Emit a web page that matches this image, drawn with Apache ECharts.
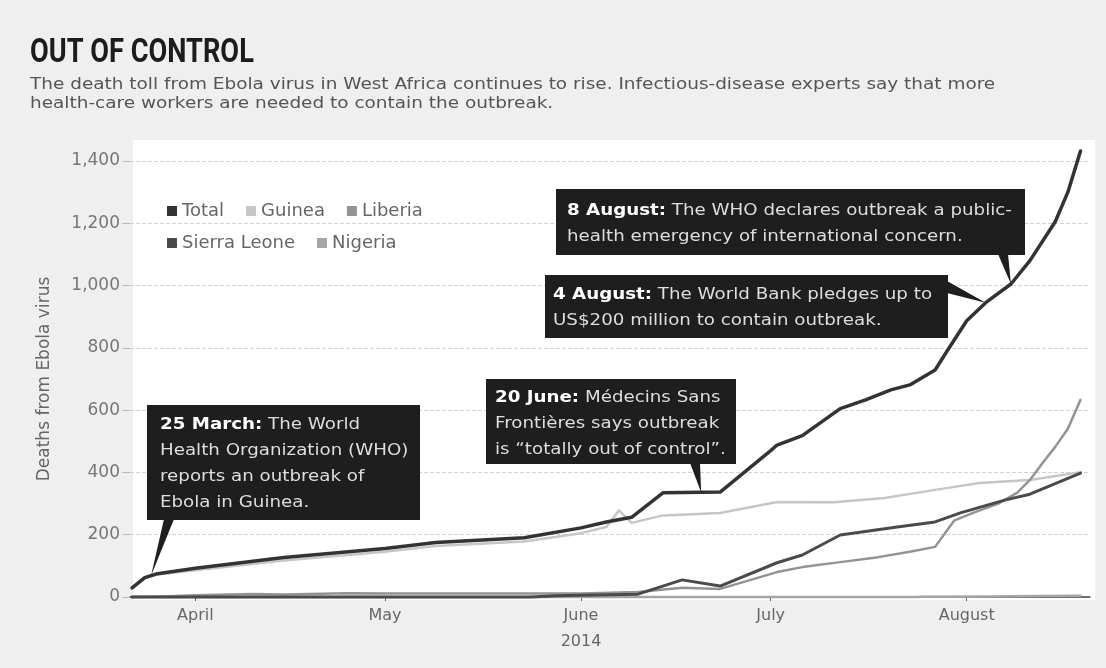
<!DOCTYPE html>
<html>
<head>
<meta charset="utf-8">
<script src="https://cdn.jsdelivr.net/npm/echarts@6/dist/echarts.min.js"></script>
<style>
  html, body { margin: 0; padding: 0; background: #efefef; }
  #chart { width: 1106px; height: 668px; }
</style>
</head>
<body>
<div id="chart"></div>
<script>
// data (cumulative deaths)
const total = [
  ['2014-03-22', 29], ['2014-03-24', 62], ['2014-03-26', 75], ['2014-04-01', 92],
  ['2014-04-15', 127], ['2014-05-01', 156], ['2014-05-09', 175], ['2014-05-23', 190],
  ['2014-06-01', 222], ['2014-06-05', 241], ['2014-06-09', 256], ['2014-06-14', 335],
  ['2014-06-23', 337], ['2014-07-01', 470], ['2014-07-02', 488], ['2014-07-06', 518],
  ['2014-07-12', 605], ['2014-07-16', 633], ['2014-07-20', 665], ['2014-07-23', 681],
  ['2014-07-27', 729], ['2014-07-29', 793], ['2014-08-01', 887], ['2014-08-04', 945],
  ['2014-08-08', 1005], ['2014-08-11', 1080], ['2014-08-15', 1205], ['2014-08-17', 1300],
  ['2014-08-19', 1432]
]
const guinea = [
  ['2014-03-22', 29], ['2014-03-24', 60], ['2014-03-26', 72], ['2014-04-01', 86],
  ['2014-04-15', 117], ['2014-05-01', 145], ['2014-05-09', 164], ['2014-05-23', 178],
  ['2014-06-01', 205], ['2014-06-05', 225], ['2014-06-07', 278], ['2014-06-09', 238],
  ['2014-06-14', 262], ['2014-06-23', 270], ['2014-07-02', 305], ['2014-07-11', 304],
  ['2014-07-19', 318], ['2014-07-27', 344], ['2014-08-03', 366], ['2014-08-11', 376],
  ['2014-08-19', 401]
]
const liberia = [
  ['2014-03-22', 0], ['2014-03-27', 2], ['2014-04-01', 6], ['2014-04-10', 10],
  ['2014-04-15', 8], ['2014-04-25', 12], ['2014-05-01', 11], ['2014-05-10', 11],
  ['2014-06-01', 11], ['2014-06-10', 16], ['2014-06-17', 30], ['2014-06-23', 26],
  ['2014-07-02', 80], ['2014-07-06', 96], ['2014-07-12', 112], ['2014-07-18', 128],
  ['2014-07-23', 145], ['2014-07-27', 161], ['2014-07-30', 245], ['2014-08-02', 270],
  ['2014-08-06', 300], ['2014-08-09', 335], ['2014-08-11', 376], ['2014-08-13', 430],
  ['2014-08-15', 482], ['2014-08-17', 540], ['2014-08-19', 633]
]
const sierraLeone = [
  ['2014-03-22', 0], ['2014-05-24', 0], ['2014-05-28', 4], ['2014-06-01', 6],
  ['2014-06-10', 9], ['2014-06-17', 55], ['2014-06-23', 35], ['2014-07-02', 110],
  ['2014-07-06', 135], ['2014-07-12', 199], ['2014-07-21', 225], ['2014-07-27', 241],
  ['2014-07-31', 270], ['2014-08-07', 311], ['2014-08-11', 330], ['2014-08-19', 398]
]
const nigeria = [
  ['2014-03-22', 0], ['2014-07-24', 0], ['2014-07-25', 1], ['2014-08-05', 2],
  ['2014-08-12', 3], ['2014-08-19', 4]
]
const months = ['April', 'May', 'June', 'July', 'August']
const monthStarts = ['2014-04-01', '2014-05-01', '2014-06-01', '2014-07-01', '2014-08-01']

// annotations: date on the Total line + text
const notes = [
  { date: '2014-03-25', head: '25 March:', text: ' The World\nHealth Organization (WHO)\nreports an outbreak of\nEbola in Guinea.' },
  { date: '2014-06-20', head: '20 June:', text: ' Médecins Sans\nFrontières says outbreak\nis “totally out of control”.' },
  { date: '2014-08-08', head: '8 August:', text: ' The WHO declares outbreak a public-\nhealth emergency of international concern.' },
  { date: '2014-08-04', head: '4 August:', text: ' The World Bank pledges up to\nUS$200 million to contain outbreak.' }
]

// day of year 2014 (Jan 1 = 0), x axis is in days
const day = s => {
  const [y, m, d] = s.split('-').map(Number)
  return (Date.UTC(y, m - 1, d) - Date.UTC(y, 0, 1)) / 86400000
}
const toSeries = arr => arr.map(([d, v]) => [day(d), v])
const monthDays = monthStarts.map(day)

const FONT = 'DejaVu Sans'
const colors = { Total: '#333333', Guinea: '#c6c6c6', Liberia: '#939393', 'Sierra Leone': '#4a4a4a', Nigeria: '#a5a5a5' }

const chartDom = document.getElementById('chart')
const chart = echarts.init(chartDom)

const lineSeries = (name, data, width, z) => ({
  name,
  type: 'line',
  data: toSeries(data),
  showSymbol: false,
  symbol: 'none',
  clip: false,
  z,
  lineStyle: { color: colors[name], width, join: 'round', cap: 'round' },
  itemStyle: { color: colors[name] },
  emphasis: { disabled: true }
})

const legendBase = {
  orient: 'horizontal',
  icon: 'rect',
  itemWidth: 10,
  itemHeight: 10,
  itemGap: 22,
  textStyle: { fontFamily: FONT, fontSize: 18, color: '#666' },
  selectedMode: false
}

const baseGraphic = [
  // white panel behind the plot
  { type: 'rect', z: -10, shape: { x: 133, y: 140, width: 962, height: 460 }, style: { fill: '#ffffff' } },
  {
    type: 'text', x: 30, y: 36, scaleX: 0.8,
    style: { text: 'OUT OF CONTROL', fontFamily: 'Roboto', fontWeight: 'bold', fontSize: 34, fill: '#1c1c1c', verticalAlign: 'top' }
  },
  {
    type: 'text', x: 30, y: 76, scaleX: 1.23,
    style: {
      text: 'The death toll from Ebola virus in West Africa continues to rise. Infectious-disease experts say that more\nhealth-care workers are needed to contain the outbreak.',
      fontFamily: FONT, fontSize: 15, lineHeight: 19, fill: '#555', verticalAlign: 'top'
    }
  }
]

const option = {
  backgroundColor: '#efefef',
  animation: false,
  grid: { left: 130, right: 16, top: 161, bottom: 71, containLabel: false },
  legend: [
    Object.assign({}, legendBase, { data: ['Total', 'Guinea', 'Liberia'], left: 162, top: 197 }),
    Object.assign({}, legendBase, { data: ['Sierra Leone', 'Nigeria'], left: 162, top: 229 })
  ],
  xAxis: {
    type: 'value',
    min: day('2014-03-21') + 16 / 24,
    max: day('2014-08-20') + 12 / 24,
    axisLine: { lineStyle: { color: '#444', width: 1.5 } },
    axisTick: { show: true, length: 4, lineStyle: { color: '#666' }, customValues: monthDays },
    splitLine: { show: false },
    axisLabel: {
      customValues: monthDays,
      margin: 6,
      fontFamily: FONT,
      fontSize: 16,
      lineHeight: 26,
      color: '#666',
      formatter: v => {
        const i = monthDays.indexOf(v)
        if (i < 0) return ''
        return i === 2 ? months[i] + '\n2014' : months[i]
      }
    }
  },
  yAxis: {
    type: 'value',
    min: 0,
    max: 1400,
    interval: 200,
    name: 'Deaths from Ebola virus',
    nameLocation: 'middle',
    nameGap: 77,
    nameTextStyle: { fontFamily: FONT, fontSize: 17, color: '#666' },
    axisLine: { show: false },
    axisTick: { show: true, length: 8, lineStyle: { color: '#bbb' } },
    splitLine: { lineStyle: { color: '#d2d2d2', type: [4, 2] } },
    axisLabel: {
      margin: 10,
      fontFamily: FONT,
      fontSize: 17,
      color: '#777',
      formatter: v => v.toLocaleString('en-US')
    }
  },
  series: [
    lineSeries('Nigeria', nigeria, 2.5, 2),
    lineSeries('Guinea', guinea, 2.5, 3),
    lineSeries('Liberia', liberia, 2.5, 4),
    lineSeries('Sierra Leone', sierraLeone, 3, 5),
    lineSeries('Total', total, 3.5, 6)
  ],
  graphic: baseGraphic
}

chart.setOption(option, true)

// Total value at a date, from the Total series
const totalAt = d => {
  const t = day(d)
  const s = toSeries(total)
  for (let i = 1; i < s.length; i++) {
    if (t <= s[i][0]) {
      const f = (t - s[i - 1][0]) / (s[i][0] - s[i - 1][0])
      return s[i - 1][1] + f * (s[i][1] - s[i - 1][1])
    }
  }
  return s[s.length - 1][1]
}

// boxes: position of box, where text starts, and the pointer base
const boxes = [
  { x: 147, y: 405, w: 273, h: 115, tx: 160, ty: 412, base: [[164, 519], [174, 519]] },
  { x: 486, y: 379, w: 250, h: 85, tx: 495, ty: 385, base: [[690, 463], [700, 463]] },
  { x: 556, y: 189, w: 469, h: 66, tx: 567, ty: 198, base: [[998, 254], [1008, 254]] },
  { x: 545, y: 275, w: 403, h: 63, tx: 553, ty: 282, base: [[947, 281], [947, 293]] }
]

const noteGraphic = []
notes.forEach((n, i) => {
  const b = boxes[i]
  const tip = chart.convertToPixel({ gridIndex: 0 }, [day(n.date), totalAt(n.date)])
  noteGraphic.push({
    type: 'polygon', z: 20,
    shape: { points: [b.base[0], b.base[1], tip] },
    style: { fill: '#1e1e1e' }
  })
  noteGraphic.push({
    type: 'rect', z: 20,
    shape: { x: b.x, y: b.y, width: b.w, height: b.h },
    style: { fill: '#1e1e1e' }
  })
  noteGraphic.push({
    type: 'text', z: 21, x: b.tx, y: b.ty, scaleX: 1.14,
    style: {
      text: '{b|' + n.head + '}' + n.text,
      fontFamily: FONT, fontSize: 16, lineHeight: 26, fill: '#dedede', verticalAlign: 'top',
      rich: { b: { fontFamily: FONT, fontSize: 16, fontWeight: 'bold', fill: '#ffffff', lineHeight: 26 } }
    }
  })
})

chart.setOption({ graphic: baseGraphic.concat(noteGraphic) })

window.addEventListener('resize', () => chart.resize())
</script>
</body>
</html>
